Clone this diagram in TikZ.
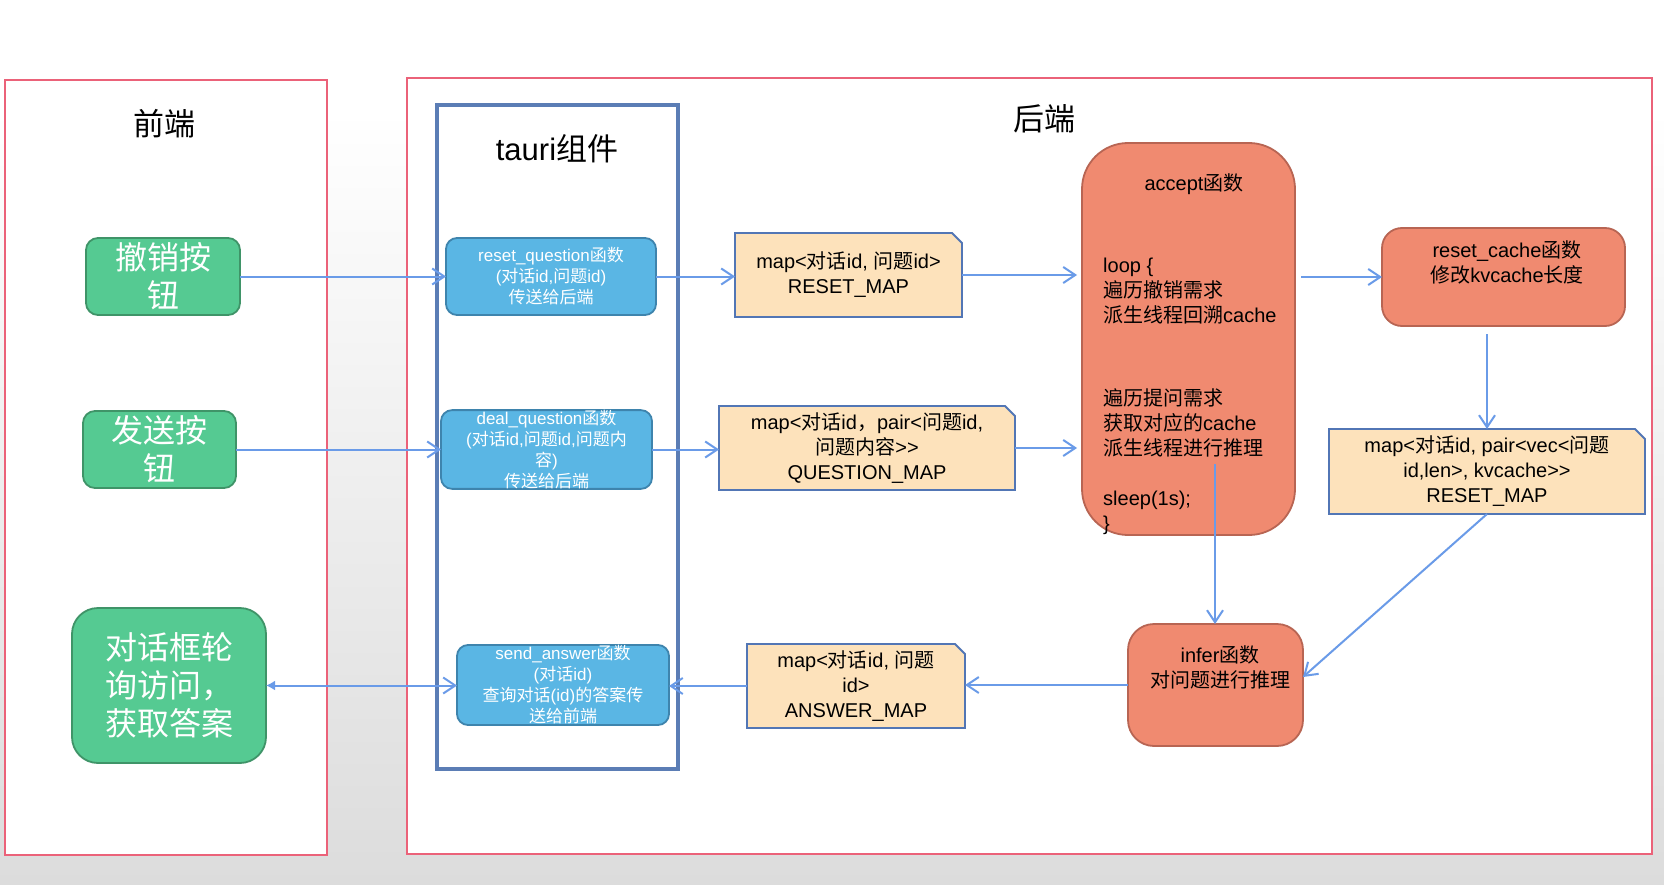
\documentclass[tikz,border=0pt]{standalone}
\usepackage{fontspec}
\setmainfont{Liberation Sans}
\newfontfamily\cjkfont{Noto Sans CJK SC}
\newcount\cjkcnt
\newXeTeXintercharclass\cjkcls
\cjkcnt="4E00
\loop
\XeTeXcharclass\cjkcnt=\cjkcls
\advance\cjkcnt by 1
\ifnum\cjkcnt<"A000 \repeat
\XeTeXcharclass"FF0C=\cjkcls
\XeTeXcharclass"3001=\cjkcls
\XeTeXcharclass"3002=\cjkcls
\XeTeXinterchartoks 0 \cjkcls = {\begingroup\cjkfont}
\XeTeXinterchartoks 4095 \cjkcls = {\begingroup\cjkfont}
\XeTeXinterchartoks \cjkcls 0 = {\endgroup}
\XeTeXinterchartoks \cjkcls 4095 = {\endgroup}
\XeTeXinterchartokenstate=1
\usetikzlibrary{arrows.meta}
\pgfdeclarelayer{bg}
\pgfdeclarelayer{notelayer}
\pgfsetlayers{bg,notelayer,main}
\definecolor{bgbot}{HTML}{DCDCDC}
\definecolor{framered}{HTML}{EB6279}
\definecolor{tauricol}{HTML}{5B7DB5}
\definecolor{gfill}{HTML}{55CA92}
\definecolor{gborder}{HTML}{3F9468}
\definecolor{bfill}{HTML}{5AB6E4}
\definecolor{bborder}{HTML}{3E84AD}
\definecolor{nfill}{HTML}{FDE2BB}
\definecolor{nborder}{HTML}{5276B5}
\definecolor{ofill}{HTML}{F08A70}
\definecolor{oborder}{HTML}{B86553}
\definecolor{acol}{HTML}{6A9BE8}
\tikzset{
  frame/.style={draw=framered, fill=white, line width=2pt, inner sep=0pt, outer sep=0pt},
  tauri/.style={draw=tauricol, line width=3.5pt, inner sep=0pt, outer sep=0pt},
  title/.style={font=\fontsize{31}{36}\selectfont, inner sep=0pt},
  gbtn/.style={draw=gborder, fill=gfill, line width=1.8pt, text=white, align=center,
    font=\fontsize{32}{38}\selectfont, inner sep=0pt, outer sep=0pt},
  bfn/.style={draw=bborder, fill=bfill, line width=1.8pt, rounded corners=11pt, text=white,
    align=center, font=\fontsize{17}{21}\selectfont, inner sep=0pt, outer sep=0pt},
  notebox/.style={align=center, font=\fontsize{20}{25}\selectfont, inner sep=0pt, outer sep=0pt},
  noteshape/.style={draw=nborder, fill=nfill, line width=1.8pt},
  ofn/.style={draw=oborder, fill=ofill, line width=1.8pt, inner sep=0pt, outer sep=0pt},
  otext/.style={align=center, font=\fontsize{20}{25}\selectfont, inner sep=0pt},
  arr/.style={draw=acol, line width=2pt, -{Straight Barb[length=12pt,width=16pt]}},
  biarr/.style={draw=acol, line width=2pt, {Latex[length=9pt,width=10pt]}-{Straight Barb[length=12pt,width=16pt]}}
}
\newcommand{\notecut}[1]{%
  \begin{pgfonlayer}{notelayer}
  \draw[noteshape] (#1.south west) -- (#1.north west) -- ([xshift=-10pt]#1.north east)
    -- ([yshift=-10pt]#1.north east) -- (#1.south east) -- cycle;
  \end{pgfonlayer}}
\begin{document}
\begin{tikzpicture}[x=1pt,y=-1pt]
\useasboundingbox (0,0) rectangle (1664,885);
\begin{pgfonlayer}{bg}
\fill[white] (0,0) rectangle (1664,110);
\shade[top color=white,bottom color=bgbot] (0,110) rectangle (1664,885);
\node[frame, minimum width=322pt, minimum height=775pt] (front) at (166,467.5) {};
\node[frame, minimum width=1245pt, minimum height=776pt] (back) at (1029.5,466) {};
\end{pgfonlayer}

\node[title] (fronttitle) at (164,124) {前端};
\node[title] (backtitle) at (1044,119) {后端};
\node[tauri, minimum width=241pt, minimum height=664pt] (tauri) at (557.5,437) {};
\node[title] (taurititle) at (557,149) {tauri组件};

% front end buttons
\node[gbtn, rounded corners=12pt, minimum width=154pt, minimum height=77pt] (undo) at (163,276.5) {撤销按\\钮};
\node[gbtn, rounded corners=12pt, minimum width=153pt, minimum height=77pt] (send) at (159.5,449.5) {发送按\\钮};
\node[gbtn, rounded corners=26pt, minimum width=194pt, minimum height=155pt] (poll) at (169,685.5) {对话框轮\\询访问，\\获取答案};

% tauri functions
\node[bfn, minimum width=210pt, minimum height=77pt] (rq) at (551,276.5) {reset\_question函数\\(对话id,问题id)\\传送给后端};
\node[bfn, minimum width=211pt, minimum height=77pt] (deal) at (546.5,449.5) {deal\_question函数\\(对话id,问题id,问题内\\容)\\传送给后端};
\node[bfn, minimum width=212pt, minimum height=80pt] (sa) at (563,685) {send\_answer函数\\(对话id)\\查询对话(id)的答案传\\送给前端};

% maps
\node[notebox, minimum width=227pt, minimum height=84pt] (rmap) at (848.5,275) {map<对话id, 问题id>\\RESET\_MAP};
\notecut{rmap}
\node[notebox, minimum width=296pt, minimum height=84pt] (qmap) at (867,448) {map<对话id，pair<问题id,\\问题内容>{}>\\QUESTION\_MAP};
\notecut{qmap}
\node[notebox, minimum width=218pt, minimum height=84pt] (amap) at (856,686) {map<对话id, 问题\\id>\\ANSWER\_MAP};
\notecut{amap}
\node[notebox, minimum width=316pt, minimum height=85pt] (rmap2) at (1487,471.5) {map<对话id, pair<vec<问题\\id,len>, kvcache>{}>\\RESET\_MAP};
\notecut{rmap2}

% backend functions
\node[ofn, rounded corners=46pt, minimum width=213pt, minimum height=392pt] (accept) at (1188.5,339) {};
\node[otext] (accepttitle) at (1194,184) {accept函数};
\node[otext, align=left, anchor=west] (acceptbody) at (1103,396) {loop \{\\遍历撤销需求\\派生线程回溯cache\\[58pt]遍历提问需求\\获取对应的cache\\派生线程进行推理\\[25pt]sleep(1s);\\\}};
\node[ofn, rounded corners=20pt, minimum width=243pt, minimum height=98pt] (rcache) at (1503.5,277) {};
\node[otext] (rcachetext) at (1507,262) {reset\_cache函数\\修改kvcache长度};
\node[ofn, rounded corners=26pt, minimum width=175pt, minimum height=122pt] (infer) at (1215.5,685) {};
\node[otext] (infertext) at (1220,667) {infer函数\\对问题进行推理};

% connectors
\draw[arr] (undo.east) -- (rq.west);
\draw[arr] (rq.east) -- (rq.east -| rmap.west);
\draw[arr, shorten >=5pt] (rmap.east) -- (rmap.east -| accept.west);
\draw[arr] (send.east) -- (deal.west);
\draw[arr] (deal.east) -- (deal.east -| qmap.west);
\draw[arr, shorten >=5pt] (qmap.east) -- (qmap.east -| accept.west);
\draw[arr, shorten <=6pt] (accept.east |- rcache.west) -- (rcache.west);
\draw[arr, shorten <=8pt] (rcache.south -| rmap2.north) -- (rmap2.north);
\draw[arr] (rmap2.south) -- ([yshift=8pt]infer.east);
\coordinate (accstart) at (1215,464);
\draw[arr] (accstart) -- (accstart |- infer.north);
\draw[arr] (infer.west) -- (infer.west -| amap.east);
\draw[arr] (amap.west) -- (amap.west -| sa.east);
\draw[biarr] (poll.east) -- (poll.east -| sa.west);
\end{tikzpicture}
\end{document}
